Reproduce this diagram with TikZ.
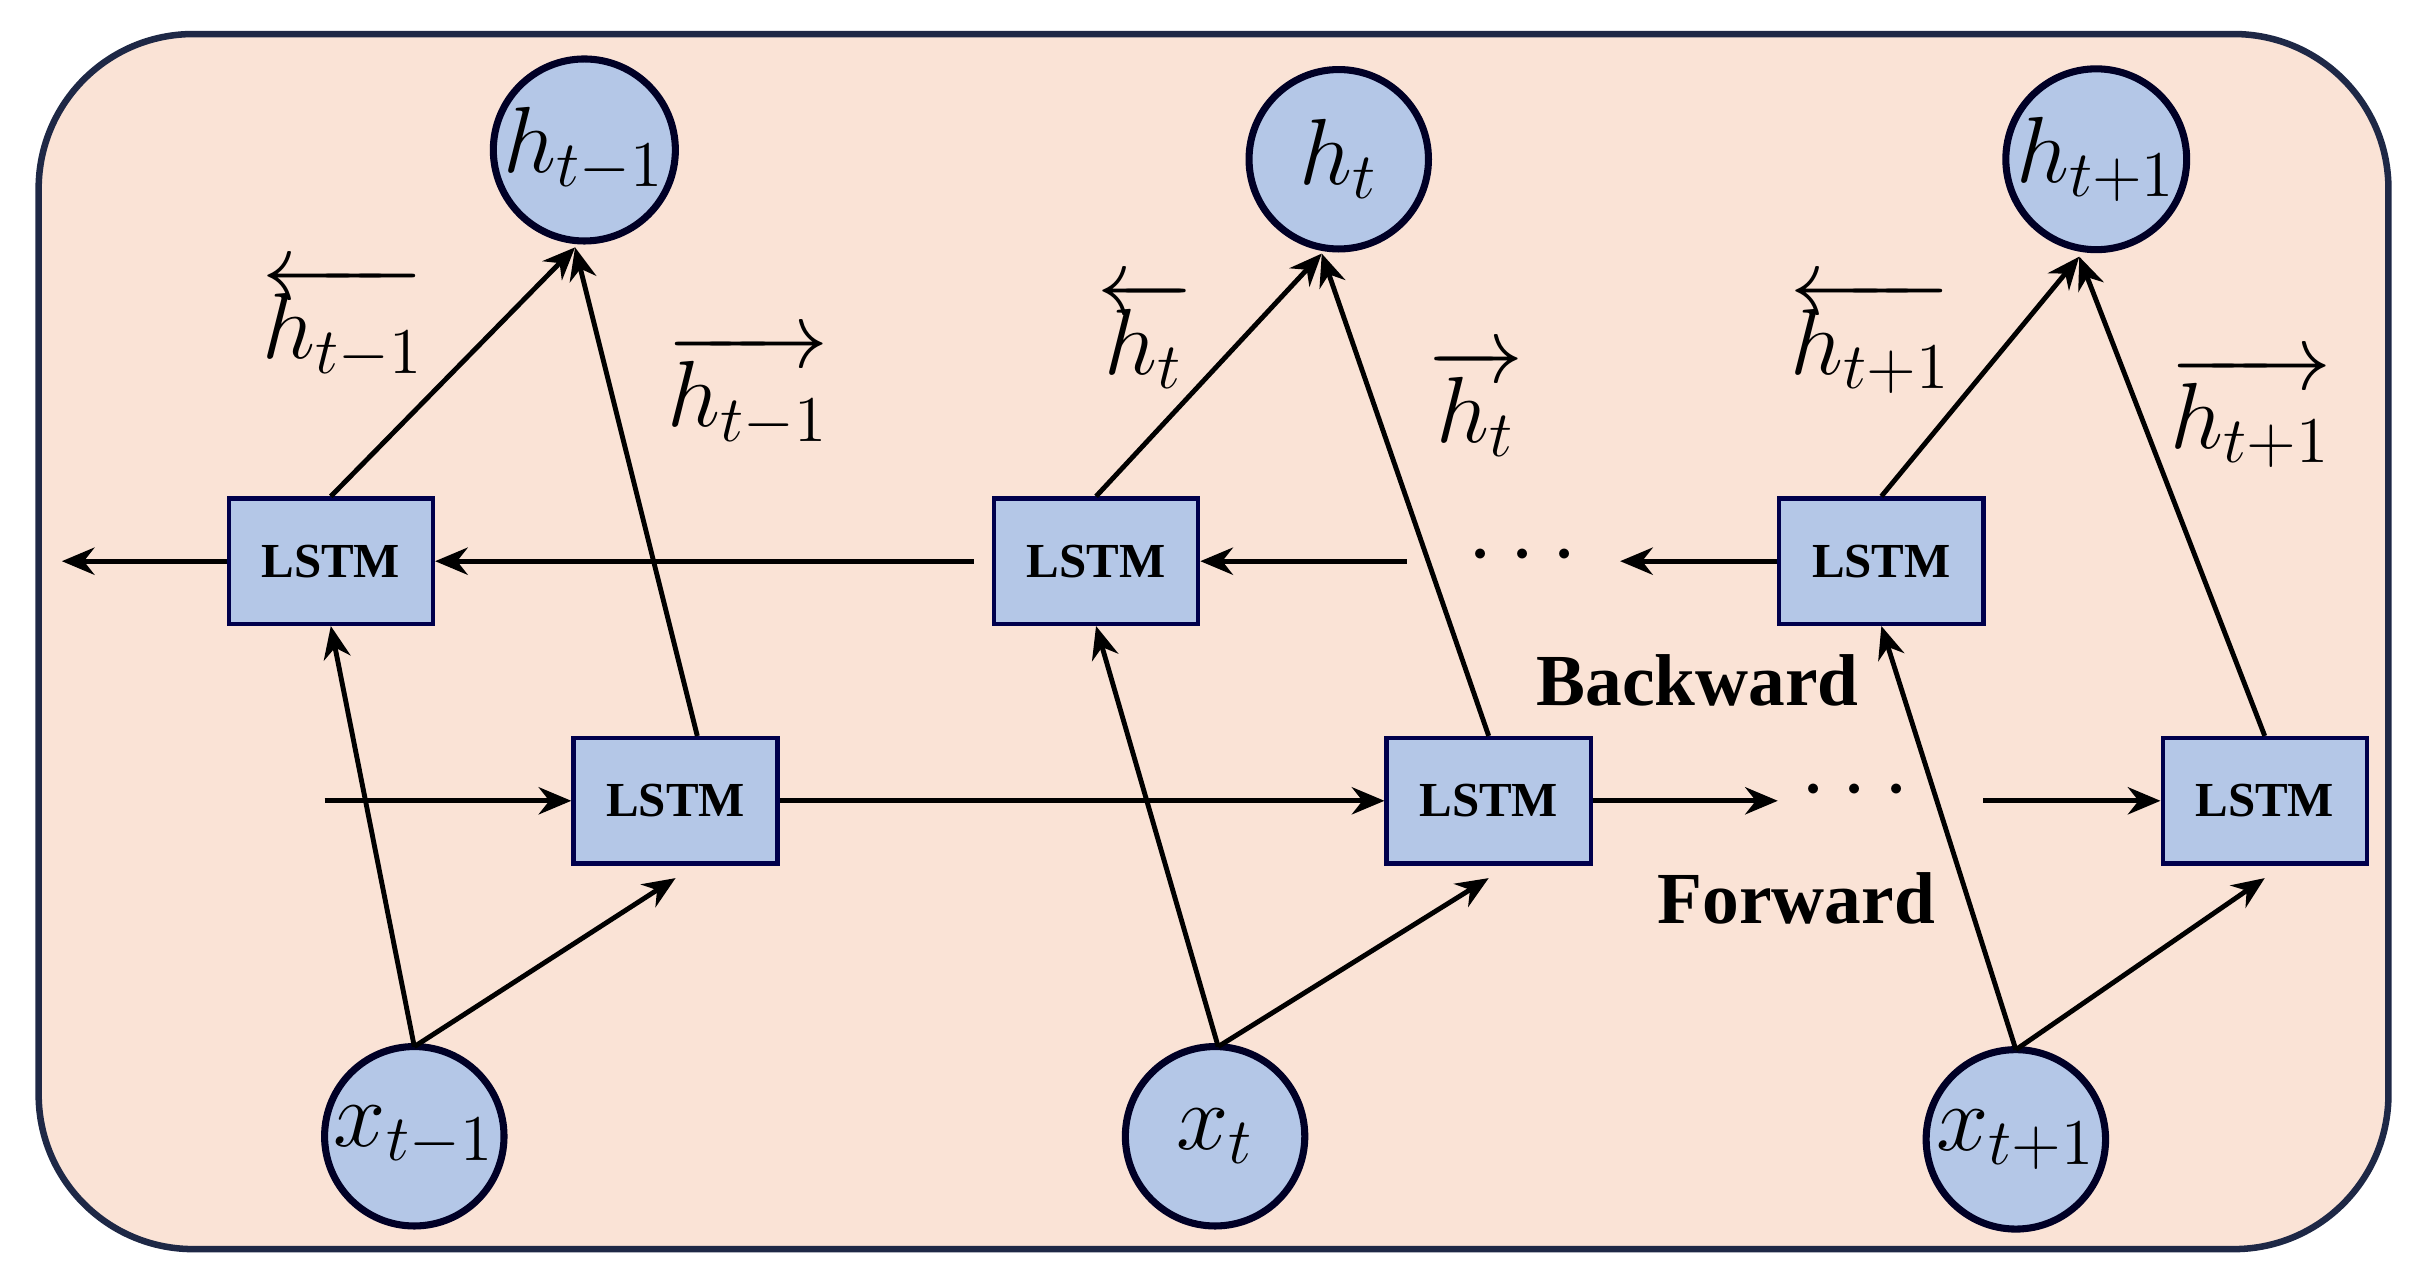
\documentclass[tikz,border=0pt]{standalone}
\usepackage{fontspec}
\setmainfont{Liberation Serif}
\usetikzlibrary{arrows.meta}
\begin{document}
\begin{tikzpicture}[x=0.01cm,y=-0.01cm,
  circ/.style={circle,draw=black!85!blue,line width=1.3pt,fill={rgb,255:red,180;green,199;blue,231},minimum size=1.16cm,inner sep=0pt,font=\fontsize{17}{20}\selectfont},
  box/.style={draw=black!70!blue,line width=0.8pt,fill={rgb,255:red,180;green,199;blue,231},minimum width=1.32cm,minimum height=0.81cm,inner sep=0pt,font=\bfseries\fontsize{9}{11}\selectfont},
  arr/.style={line width=0.9pt,-{Stealth[length=6pt,width=5pt]}},
  lab/.style={font=\fontsize{17}{20}\selectfont},
  big/.style={font=\bfseries\fontsize{13.5}{16}\selectfont}]
\useasboundingbox (0,0) rectangle (1568,832);
\draw[line width=1.2pt,draw={rgb,255:red,30;green,40;blue,70},fill={rgb,255:red,250;green,227;blue,214},rounded corners=1.0cm] (25,22) rectangle (1545,808);
% circles
\node[circ] (h1) at (378,97) {$h_{t-1}$};
\node[circ] (h2) at (866,103) {$h_t$};
\node[circ] (h3) at (1356,103) {$h_{t+1}$};
\node[circ] (x1) at (268,735) {$x_{t-1}$};
\node[circ] (x2) at (786,735) {$x_t$};
\node[circ] (x3) at (1304,737) {$x_{t+1}$};
% boxes
\node[box] (b1) at (214,363) {LSTM};
\node[box] (b2) at (709,363) {LSTM};
\node[box] (b3) at (1217,363) {LSTM};
\node[box] (f1) at (437,518) {LSTM};
\node[box] (f2) at (963,518) {LSTM};
\node[box] (f3) at (1465,518) {LSTM};
% backward chain
\coordinate (bs2) at (630,363);
\coordinate (bend) at (40,363);
\coordinate (bs3) at (910,363);
\coordinate (bd3) at (1048,363);
\draw[arr] (bs2) -- (b1.east);
\draw[arr] (b1.west) -- (bend);
\draw[arr] (bs3) -- (b2.east);
\draw[arr] (b3.west) -- (bd3);
\node[font=\fontsize{17}{20}\selectfont] (dotsb) at (985,360) {$\cdots$};
% forward chain
\coordinate (fs1) at (210,518);
\coordinate (fe2) at (1150,518);
\coordinate (fs3) at (1283,518);
\draw[arr] (fs1) -- (f1.west);
\draw[arr] (f1.east) -- (f2.west);
\draw[arr] (f2.east) -- (fe2);
\draw[arr] (fs3) -- (f3.west);
\node[font=\fontsize{17}{20}\selectfont] (dotsf) at (1200,512) {$\cdots$};
% to outputs
\coordinate (h1b) at (372,160); \coordinate (h2b) at (855,164); \coordinate (h3b) at (1345,166);
\draw[arr] (b1.north) -- (h1b);
\draw[arr] ([xshift=4]f1.north) -- (h1b);
\draw[arr] (b2.north) -- (h2b);
\draw[arr] (f2.north) -- (h2b);
\draw[arr] (b3.north) -- (h3b);
\draw[arr] (f3.north) -- (h3b);
% inputs
\coordinate (x1t) at (268,677); \coordinate (x2t) at (788,677); \coordinate (x3t) at (1304,679);
\coordinate (f1b) at (437,568); \coordinate (f2b) at (963,568); \coordinate (f3b) at (1465,568);
\draw[arr] (x1t) -- (b1.south);
\draw[arr] (x1t) -- (f1b);
\draw[arr] (x2t) -- (b2.south);
\draw[arr] (x2t) -- (f2b);
\draw[arr] (x3t) -- (b3.south);
\draw[arr] (x3t) -- (f3b);
% labels
\node[lab] (l1) at (222,208) {$\overleftarrow{h_{t-1}}$};
\node[lab] (r1) at (484,252) {$\overrightarrow{h_{t-1}}$};
\node[lab] (l2) at (740,216) {$\overleftarrow{h_t}$};
\node[lab] (r2) at (955,260) {$\overrightarrow{h_t}$};
\node[lab] (l3) at (1210,218) {$\overleftarrow{h_{t+1}}$};
\node[lab] (r3) at (1456,266) {$\overrightarrow{h_{t+1}}$};
\node[big] (bw) at (1098,440) {Backward};
\node[big] (fw) at (1162,581) {Forward};
\end{tikzpicture}
\end{document}
